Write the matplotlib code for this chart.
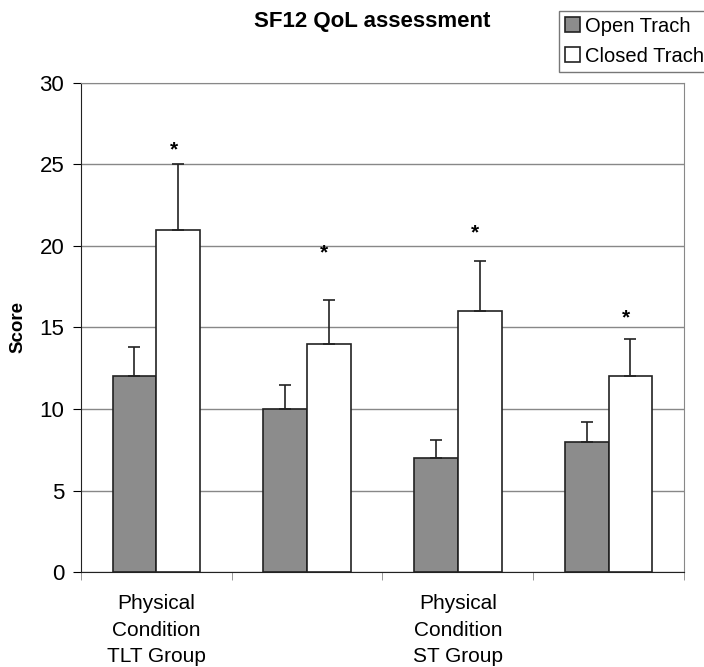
import matplotlib.pyplot as plt
import numpy as np

plt.rcParams['font.family'] = ['Liberation Sans', 'DejaVu Sans']

groups = ['Physical\nCondition\nTLT Group', '', 'Physical\nCondition\nST Group', '']
open_vals = [12, 10, 7, 8]
open_err = [1.8, 1.5, 1.1, 1.2]
closed_vals = [21, 14, 16, 12]
closed_err = [4.0, 2.7, 3.1, 2.3]
star_y = [25.9, 19.6, 20.8, 15.6]

fig = plt.figure(figsize=(7.04, 6.67), dpi=100)
ax = fig.add_axes([0.115, 0.1424, 0.8566, 0.7332])

x = np.arange(len(groups))
w = 0.29
ax.bar(x - w / 2, open_vals, w, color='#8c8c8c', edgecolor='#222222', linewidth=1.2,
       yerr=[np.zeros(4), open_err], error_kw=dict(ecolor='#222222', elinewidth=1.2, capsize=4, capthick=1.2),
       label='Open Trach', zorder=3)
ax.bar(x + w / 2, closed_vals, w, color='white', edgecolor='#222222', linewidth=1.2,
       yerr=[np.zeros(4), closed_err], error_kw=dict(ecolor='#222222', elinewidth=1.2, capsize=4, capthick=1.2),
       label='Closed Trach', zorder=3)
for xi, sy in zip(x, star_y):
    ax.text(xi + w / 2 - 0.03, sy, '*', ha='center', va='center', fontsize=15, fontweight='bold')

ax.set_xlim(-0.5, 3.5)
ax.set_ylim(0, 30)
ax.set_yticks(range(0, 31, 5))
ax.yaxis.grid(True, color='#888888', linewidth=1)
ax.set_axisbelow(True)
ax.tick_params(axis='y', direction='out', length=6, labelsize=16, pad=6)
ax.set_xticks(x)
ax.set_xticklabels(groups, fontsize=15, linespacing=1.5)
ax.set_xticks(np.arange(-0.5, 4, 1), minor=True)
ax.tick_params(axis='x', which='major', length=0, pad=16)
ax.tick_params(axis='x', which='minor', direction='out', length=6, color='#888888')
for s in ['top', 'right']:
    ax.spines[s].set_color('#888888')
ax.spines['left'].set_color('#222222')
ax.spines['bottom'].set_color('#222222')
ax.set_ylabel('Score', fontsize=13.5, fontweight='bold')
ax.yaxis.set_label_coords(-0.09, 0.5)

fig.text(0.528, 0.968, 'SF12 QoL assessment', ha='center', va='center', fontsize=16, fontweight='bold')
fig.legend(loc='upper left', bbox_to_anchor=(0.794, 0.984), fontsize=14.5, frameon=True, fancybox=False,
           edgecolor='#555555', handlelength=0.75, handleheight=0.75, handletextpad=0.25,
           borderpad=0.3, labelspacing=0.55, borderaxespad=0)

fig.savefig('out.png', dpi=100)
